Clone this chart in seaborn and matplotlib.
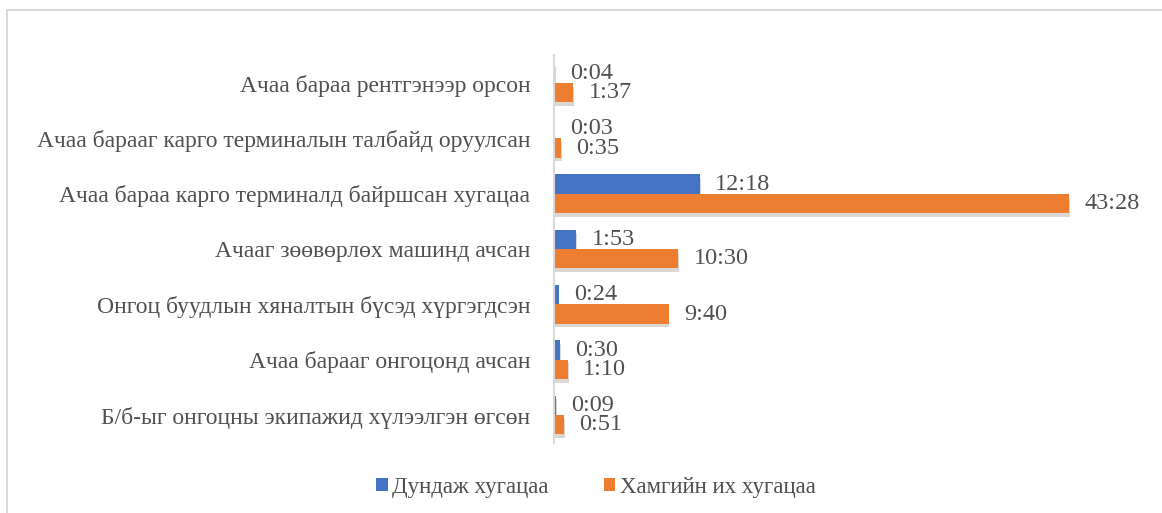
import pandas as pd
import matplotlib.pyplot as plt
import matplotlib.patheffects as pe
from matplotlib.patches import Rectangle
import seaborn as sns

categories = [
    'Ачаа бараа рентгэнээр орсон',
    'Ачаа барааг карго терминалын талбайд оруулсан',
    'Ачаа бараа карго терминалд байршсан хугацаа',
    'Ачааг зөөвөрлөх машинд ачсан',
    'Онгоц буудлын хяналтын бүсэд хүргэгдсэн',
    'Ачаа барааг онгоцонд ачсан',
    'Б/б-ыг онгоцны экипажид хүлээлгэн өгсөн',
]
# time in minutes (label shown as h:mm)
avg_minutes = [4, 3, 738, 113, 24, 30, 9]
max_minutes = [97, 35, 2608, 630, 580, 70, 51]
series_names = ['Дундаж хугацаа', 'Хамгийн их хугацаа']
colors = ['#4472C4', '#ED7D31']
text_color = '#505050'


def hmm(m):
    return '%d:%02d' % (m // 60, m % 60)


df = pd.DataFrame({
    'category': categories * 2,
    'minutes': avg_minutes + max_minutes,
    'series': [series_names[0]] * len(categories) + [series_names[1]] * len(categories),
})

sns.set_style('white')
plt.rcParams['font.family'] = ['Liberation Serif', 'DejaVu Serif']

fig = plt.figure(figsize=(11.62, 5.13), dpi=100)
ax = fig.add_axes([0.4768, 0.137, 0.513, 0.755])

sns.barplot(data=df, y='category', x='minutes', hue='series', orient='h',
            palette=colors, saturation=1, width=0.7, linewidth=0,
            edgecolor='none', ax=ax, legend=True)

# soft drop shadow under the bars
shadow = [pe.SimplePatchShadow(offset=(0.5, -2.5), alpha=0.18), pe.Normal()]
for cont, vals in zip(ax.containers, [avg_minutes, max_minutes]):
    for bar in cont:
        bar.set_path_effects(shadow)
    ax.bar_label(cont, labels=[hmm(v) for v in vals], padding=11,
                 fontsize=17.5, color=text_color)

ax.set_xlim(0, 3018)
ax.set_xlabel('')
ax.set_ylabel('')
ax.set_xticks([])
ax.tick_params(axis='y', length=0, pad=17, labelsize=17, labelcolor=text_color)
for s in ['top', 'right', 'bottom']:
    ax.spines[s].set_visible(False)
ax.spines['left'].set_color('#d9d9d9')
ax.spines['left'].set_linewidth(1.5)

handles, labels = ax.get_legend_handles_labels()
ax.legend_.remove()
fig.legend(handles, labels, loc='center', bbox_to_anchor=(0.513, 0.05), ncol=2,
           frameon=False, fontsize=16.5, labelcolor=text_color,
           handlelength=0.5, handleheight=0.5, handletextpad=0.2,
           columnspacing=2.4)

fig.patches.append(Rectangle((7 / 1162, -0.1), 1.2, 1 - 10 / 513 + 0.1,
                             transform=fig.transFigure, fill=False,
                             edgecolor='#d9d9d9', linewidth=1.5))

fig.savefig('out.png', dpi=100)
